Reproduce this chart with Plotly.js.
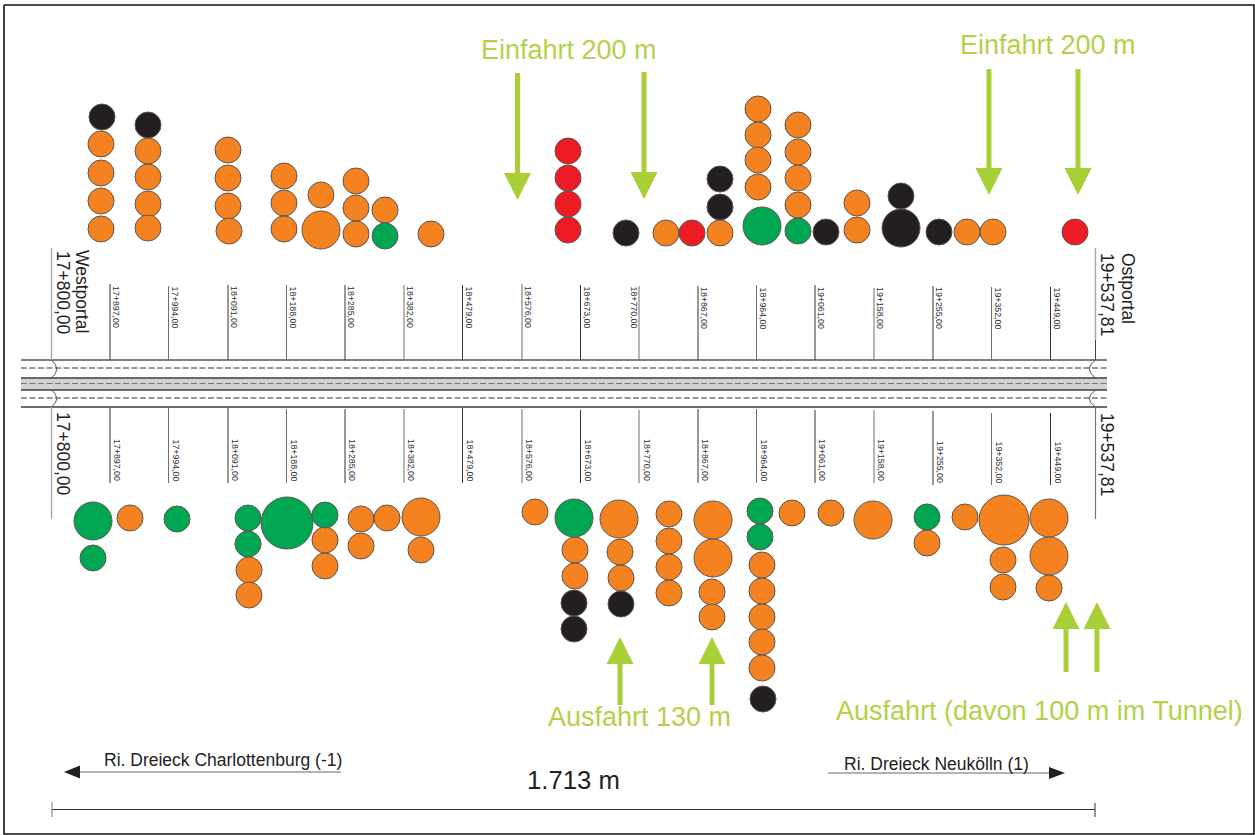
<!DOCTYPE html>
<html><head><meta charset="utf-8">
<script src="https://cdn.plot.ly/plotly-3.0.1.min.js"></script>
<style>html,body{margin:0;padding:0;background:#fff}#c{width:1255px;height:835px}</style>
</head><body><div id="c"></div>
<script>
// Stationing tick labels and where they sit along the tunnel drawing
const stationLabels = ["17+897,00","17+994,00","18+091,00","18+188,00","18+285,00","18+382,00","18+479,00","18+576,00","18+673,00","18+770,00","18+867,00","18+964,00","19+061,00","19+158,00","19+255,00","19+352,00","19+449,00"];
const stationX = [110,168.5,228,286.5,345,404,462.5,522,580.5,639,698,756.5,815,874,933,991.5,1050.5];
const stationTopStart = [284,286,285,285,285,285,285,284,285,286,286,285,285,288,286,287,287];
const stationBottomStart = [408,408,408,409,409,409,408,409,410,410,409,409,410,410,411,413,413];

// Accident circles, by colour: position and diameter
const orangeX = [101,101,101,101,148,148,148,148,228,228,228,229,284,284,284,321,321,356,356,356,385,431,666,720,758,758,758,758,798,798,798,798,857,857,967,993,
  130,249,249,325,325,361,361,387,421,421,535,575,575,619,620,621,669,669,669,669,713,713,712,712,762,762,762,762,762,792,831,873,927,965,1004,1049,1003,1003,1049,1049];
const orangeY = [144,173,201,229,151,177,204,228,150,178,206,231,176,203,229,195,230,181,208,234,210,234,233,233,109,135,160,187,125,152,178,205,203,230,232,232,
  518,570,595,540,566,519,546,518,517,550,512,550,576,519,552,578,514,541,567,593,520,558,592,617,565,591,617,642,668,513,513,520,543,517,520,518,560,587,556,588];
const orangeD = [26,26,26,26,26,26,26,26,26,26,26,26,26,26,26,26,38,26,26,26,26,26,26,26,26,26,26,26,26,26,26,26,26,26,26,26,
  26,26,26,26,26,26,26,26,38,26,26,26,26,38,26,26,26,26,26,26,38,38,26,26,26,26,26,26,26,26,26,38,26,26,50,38,26,26,38,26];

const greenX = [385,762,798,93,93,177,248,248,287,325,574,760,760,927];
const greenY = [236,226,231,521,558,519,518,544,523,515,518,511,537,517];
const greenD = [26,38,26,38,26,26,26,26,52,26,38,26,26,26];

const redX = [568,568,568,568,692,1075];
const redY = [151,178,204,230,233,232];
const redD = [26,26,26,26,26,26];

const blackX = [102,148,626,720,720,826,901,901,939,574,574,621,763];
const blackY = [117,125,233,179,207,232,196,228,232,603,629,604,699];
const blackD = [26,26,26,26,26,26,26,38,26,26,26,26,26];

// Green entry / exit arrows: x, shaft end, head base, tip
const arrowX = [517.5,644,989,1078,620,712,1066,1097];
const arrowTail = [73,72,69,69,705,705,672,672];
const arrowBase = [173,172,168,168,664,664,629,629];
const arrowTip = [200,199,195,195,637,637,602,602];

const portalX = [51.5,1095.5];
const roadStart = 21, roadEnd = 1107;

const traces = [];
function line(x,y,color,width,dash){
  traces.push({type:'scatter',mode:'lines',x,y,line:{color,width,dash:dash||'solid'},hoverinfo:'skip',showlegend:false});
}
function poly(x,y,color){
  traces.push({type:'scatter',mode:'lines',x,y,fill:'toself',fillcolor:color,line:{color,width:0},hoverinfo:'skip',showlegend:false});
}
function circles(x,y,d,color,name){
  traces.push({type:'scatter',mode:'markers',name,x,y,marker:{size:d,color,opacity:1,line:{color:'#5c5650',width:1}},showlegend:false,hoverinfo:'skip'});
}

// Road band
poly([roadStart,roadEnd,roadEnd,roadStart],[378,378,390,390],'#d2d2d2');
line([roadStart,roadEnd],[360,360],'#808080',2);
line([roadStart,roadEnd],[378,378],'#3c3c3c',1.4);
line([roadStart,roadEnd],[390,390],'#3c3c3c',1.4);
line([roadStart,roadEnd],[407,407],'#3c3c3c',1.4);
line([roadStart,roadEnd],[368,368],'#333',1,'6px,2.5px');
line([roadStart,roadEnd],[383.5,383.5],'#777',1.2,'6px,2.5px');
line([roadStart,roadEnd],[398,398],'#333',1,'6px,2.5px');

// Station lines
stationX.forEach((x,i)=>{
  const c = i%2 ? '#6e6e6e' : '#333';
  line([x,x],[stationTopStart[i],360],c,1);
  line([x,x],[stationBottomStart[i],483+(i>13?2:0)],c,1);
});
// Portal lines
line([portalX[0],portalX[0]],[248,360],'#a8a8a8',1.4);
line([portalX[0],portalX[0]],[407,519],'#a8a8a8',1.4);
line([portalX[1],portalX[1]],[248,340],'#a8a8a8',1.4);
line([portalX[1],portalX[1]],[340,360],'#444',1);
line([portalX[1],portalX[1]],[407,519],'#777',1.2);

// Direction arrows and length dimension
line([78,341],[772,772],'#666',1);
poly([64,80,80],[772,765.5,778.5],'#231f20');
line([828,1052],[773,773],'#666',1);
poly([1065,1049,1049],[773,767,779],'#231f20');
line([52,1095],[809.5,809.5],'#333',1);
line([52,52],[802,817],'#777',1);
line([1095,1095],[803,817],'#333',1);

// Frame
line([4,1254,1254,4,4],[5,5,834,834,5],'#111',1.6);

// Green arrows
arrowX.forEach((x,i)=>{
  line([x,x],[arrowTail[i],arrowBase[i]],'#a8cf38',5);
  poly([x-13.5,x+13.5,x],[arrowBase[i],arrowBase[i],arrowTip[i]],'#a8cf38');
});

circles(orangeX,orangeY,orangeD,'#f58220','orange');
circles(greenX,greenY,greenD,'#00a651','green');
circles(redX,redY,redD,'#ed1c24','red');
circles(blackX,blackY,blackD,'#231f20','black');

const FONT='"Liberation Sans", Arial, sans-serif';
function txt(text,x,y,size,color,angle){
  return {text,x,y,xref:'x',yref:'y',showarrow:false,xanchor:'center',yanchor:'middle',textangle:angle||0,
    font:{family:FONT,size,color},borderpad:0,borderwidth:0};
}
const anns=[];
stationX.forEach((x,i)=>{
  const topX = i===9 ? x-5.5 : x+6;
  const botX = i===9 ? x+8 : x+7;
  anns.push(txt(stationLabels[i],topX,307+(i>9?1:0),8.8,'#333',90));
  anns.push(txt(stationLabels[i],botX,460+(i>13?2:0),8.8,'#333',90));
});
anns.push(txt('Westportal',82,291,17.5,'#222',90));
anns.push(txt('17+800,00',63,292,17.5,'#222',90));
anns.push(txt('17+800,00',63,453,17.5,'#222',90));
anns.push(txt('Ostportal',1128,288,17.5,'#222',90));
anns.push(txt('19+537,81',1107,294,17.5,'#222',90));
anns.push(txt('19+537,81',1107,454,17.5,'#222',90));
anns.push(txt('Einfahrt 200 m',569,50,27,'#b0d24a'));
anns.push(txt('Einfahrt 200 m',1048,45,27,'#b0d24a'));
anns.push(txt('Ausfahrt 130 m',639,717,27,'#b0d24a'));
anns.push(txt('Ausfahrt (davon 100 m im Tunnel)',1039,711,27,'#b0d24a'));
anns.push(txt('Ri. Dreieck Charlottenburg (-1)',223,760,17.5,'#222'));
anns.push(txt('Ri. Dreieck Neukölln (1)',936,764,17.5,'#222'));
anns.push(txt('1.713 m',573,780,25.7,'#222'));

// Portal arcs
const arcs=[
 'M 51.5 360 Q 62 369 51.5 378','M 51.5 390 Q 62 398.5 51.5 407',
 'M 1095.5 360 Q 1083 369 1095.5 378','M 1095.5 390 Q 1083 398.5 1095.5 407'
].map(path=>({type:'path',path,xref:'x',yref:'y',line:{color:'#555',width:1},layer:'above'}));

Plotly.newPlot('c',traces,{
  width:1255,height:835,margin:{l:0,r:0,t:0,b:0,pad:0},
  paper_bgcolor:'#fff',plot_bgcolor:'#fff',showlegend:false,
  xaxis:{range:[0,1255],visible:false,fixedrange:true},
  yaxis:{range:[835,0],visible:false,fixedrange:true},
  annotations:anns,shapes:arcs
},{displayModeBar:false,staticPlot:true});
</script></body></html>
